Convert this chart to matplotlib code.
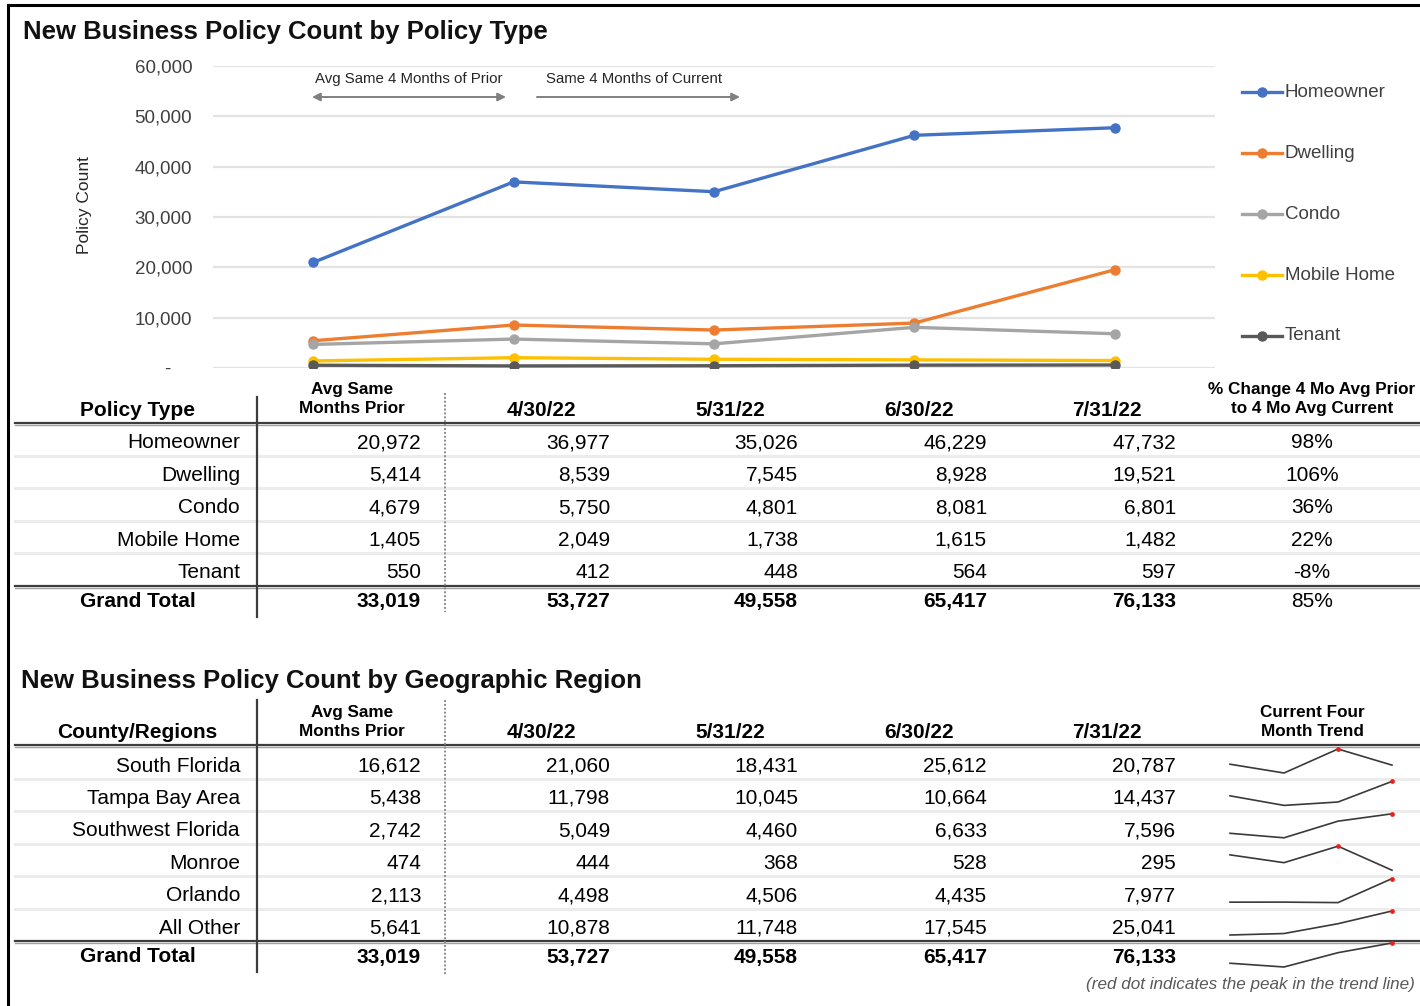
import matplotlib
matplotlib.use("Agg")
import matplotlib.pyplot as plt

plt.rcParams["font.family"] = ["Liberation Sans", "DejaVu Sans"]

# ---- data ----
months = ["Avg Same\nMonths Prior", "4/30/22", "5/31/22", "6/30/22", "7/31/22"]

policy_types = ["Homeowner", "Dwelling", "Condo", "Mobile Home", "Tenant"]
homeowner = [20972, 36977, 35026, 46229, 47732]
dwelling = [5414, 8539, 7545, 8928, 19521]
condo = [4679, 5750, 4801, 8081, 6801]
mobile_home = [1405, 2049, 1738, 1615, 1482]
tenant = [550, 412, 448, 564, 597]
policy_total = [33019, 53727, 49558, 65417, 76133]
pct_change = [98, 106, 36, 22, -8, 85]

series_colors = ["#4472C4", "#ED7D31", "#A5A5A5", "#FFC000", "#595959"]

regions = ["South Florida", "Tampa Bay Area", "Southwest Florida", "Monroe",
           "Orlando", "All Other"]
south_florida = [16612, 21060, 18431, 25612, 20787]
tampa_bay = [5438, 11798, 10045, 10664, 14437]
southwest_florida = [2742, 5049, 4460, 6633, 7596]
monroe = [474, 444, 368, 528, 295]
orlando = [2113, 4498, 4506, 4435, 7977]
all_other = [5641, 10878, 11748, 17545, 25041]
region_total = [33019, 53727, 49558, 65417, 76133]

W, H = 1420, 1006
fig = plt.figure(figsize=(W / 100, H / 100), dpi=100)

# overlay in pixel coordinates for tables / text
ov = fig.add_axes([0, 0, 1, 1], zorder=0)
ov.set_xlim(0, W)
ov.set_ylim(H, 0)
ov.axis("off")

# frame
ov.plot([8, 8], [5, H], color="black", lw=2.2)
ov.plot([8, W], [5, 5], color="black", lw=2.2)

# ---- line chart ----
ax = fig.add_axes([213 / W, 1 - 368 / H, 1002 / W, 302 / H], zorder=1)
ax.patch.set_alpha(0)
series = [homeowner, dwelling, condo, mobile_home, tenant]
xs = list(range(len(months)))
for vals, col in zip(series, series_colors):
    ax.plot(xs, vals, color=col, lw=2.4, marker="o", ms=6.5, zorder=3)
ax.set_xlim(-0.5, 4.5)
ax.set_ylim(0, 60000)
ax.set_yticks(range(0, 60001, 10000))
ax.set_yticklabels(["-    "] + [f"{v:,}" for v in range(10000, 60001, 10000)])
ax.set_xticks([])
ax.tick_params(axis="y", length=0, pad=15, labelsize=13.5, labelcolor="#404040")
ax.grid(axis="y", color="#e3e3e3", lw=1.6)
ax.set_axisbelow(True)
for s in ax.spines.values():
    s.set_visible(False)
ax.set_ylabel("Policy Count", fontsize=12.5, color="#262626")
ax.yaxis.set_label_coords(-0.128, 0.54)
ax.yaxis.label.set_va("center")

# chart title
ov.text(23, 32, "New Business Policy Count by Policy Type", fontsize=18.5,
        fontweight="bold", va="center", ha="left", color="#111111")

# period arrows
ov.text(409, 79, "Avg Same 4 Months of Prior", fontsize=10.8, ha="center",
        va="center", color="#262626")
ov.text(634, 79, "Same 4 Months of Current", fontsize=10.8, ha="center",
        va="center", color="#262626")
ov.annotate("", xy=(506, 97), xytext=(312, 97),
            arrowprops=dict(arrowstyle="<|-|>", color="#808080", lw=1.4,
                            mutation_scale=12, shrinkA=0, shrinkB=0))
ov.annotate("", xy=(740, 97), xytext=(537, 97),
            arrowprops=dict(arrowstyle="-|>", color="#808080", lw=1.4,
                            mutation_scale=12, shrinkA=0, shrinkB=0))

# legend
for i, (name, col) in enumerate(zip(policy_types, series_colors)):
    ly = 92 + 61 * i
    ov.plot([1242, 1282], [ly, ly], color=col, lw=2.4)
    ov.plot([1262], [ly], color=col, marker="o", ms=6.5)
    ov.text(1285, ly, name, fontsize=13.5, va="center", ha="left",
            color="#404040")

# ---- tables ----
col_right = [421, 610, 798, 987, 1176]
col_center = [352, 541, 730, 919, 1107]
LAST_X = 1312
LABEL_X = 240


def draw_header(y, first, last):
    ov.text(137, y, first, fontsize=15, fontweight="bold", ha="center",
            va="center")
    ov.text(col_center[0], y - 11, months[0], fontsize=12.3,
            fontweight="bold", ha="center", va="center", linespacing=1.4)
    for cx, m in zip(col_center[1:], months[1:]):
        ov.text(cx, y, m, fontsize=15, fontweight="bold", ha="center",
                va="center")
    ov.text(LAST_X, y - 11, last, fontsize=12.3, fontweight="bold",
            ha="center", va="center", linespacing=1.4)


def draw_rows(y0, labels, rows, total):
    ys = [y0 + 32.4 * i for i in range(len(labels))]
    for y, lab, vals in zip(ys, labels, rows):
        ov.text(LABEL_X, y, lab, fontsize=15, ha="right", va="center")
        for cx, v in zip(col_right, vals):
            ov.text(cx, y, f"{v:,}", fontsize=15, ha="right", va="center")
    for y in ys[:-1]:
        ov.plot([15, W], [y + 13, y + 13], color="#ececec", lw=2.2, zorder=0)
    line_y = ys[-1] + 13
    ov.plot([15, W], [line_y, line_y], color="#3c3c3c", lw=1.6)
    ov.plot([15, W], [line_y + 2, line_y + 2], color="#a0a0a0", lw=1.0)
    gy = line_y + 16
    ov.text(80, gy, "Grand Total", fontsize=15, fontweight="bold",
            ha="left", va="center")
    for cx, v in zip(col_right, total):
        ov.text(cx, gy, f"{v:,}", fontsize=15, fontweight="bold",
                ha="right", va="center")
    return ys, gy


def heavy_line(y):
    ov.plot([15, W], [y, y], color="#3c3c3c", lw=1.6)
    ov.plot([15, W], [y + 2, y + 2], color="#a0a0a0", lw=1.0)


# table 1
draw_header(410, "Policy Type",
            "% Change 4 Mo Avg Prior\nto 4 Mo Avg Current")
heavy_line(423)
ys1, gy1 = draw_rows(443, policy_types, series, policy_total)
for y, p in zip(ys1 + [gy1], pct_change):
    ov.text(LAST_X, y, f"{p}%", fontsize=15, ha="center", va="center")
ov.plot([257, 257], [397, 617], color="#3c3c3c", lw=1.6)
ov.plot([445, 445], [393, 612], color="#8c8c8c", lw=1.4, ls=(0, (1, 1)))

# table 2
ov.text(21, 681, "New Business Policy Count by Geographic Region",
        fontsize=18.5, fontweight="bold", va="center", ha="left",
        color="#111111")
draw_header(733, "County/Regions", "Current Four\nMonth Trend")
heavy_line(745)
region_rows = [south_florida, tampa_bay, southwest_florida, monroe, orlando,
               all_other]
ys2, gy2 = draw_rows(766, regions, region_rows, region_total)
ov.plot([257, 257], [700, 972], color="#3c3c3c", lw=1.6)
ov.plot([445, 445], [700, 975], color="#8c8c8c", lw=1.4, ls=(0, (1, 1)))

# sparklines (last four months)
spark_specs = [(y - 17, y + 7, vals) for y, vals in zip(ys2, region_rows)]
spark_specs.append((gy2 - 14, gy2 + 10, region_total))
for top, bot, vals in spark_specs:
    trend = vals[1:]
    sax = fig.add_axes([1230 / W, 1 - bot / H, 162 / W, (bot - top) / H],
                       zorder=2)
    sax.patch.set_alpha(0)
    sax.plot(range(4), trend, color="#3a3a3a", lw=1.2)
    peak = trend.index(max(trend))
    sax.plot([peak], [trend[peak]], "o", color="#e8201c", ms=2.4, zorder=3)
    sax.set_xlim(0, 3)
    sax.set_ylim(min(trend), max(trend))
    sax.margins(0)
    sax.axis("off")
    for ln in sax.lines:
        ln.set_clip_on(False)

ov.text(1415, 984, "(red dot indicates the peak in the trend line)",
        fontsize=12.3, style="italic", ha="right", va="center", color="#595959")

fig.savefig("out.png", dpi=100)
